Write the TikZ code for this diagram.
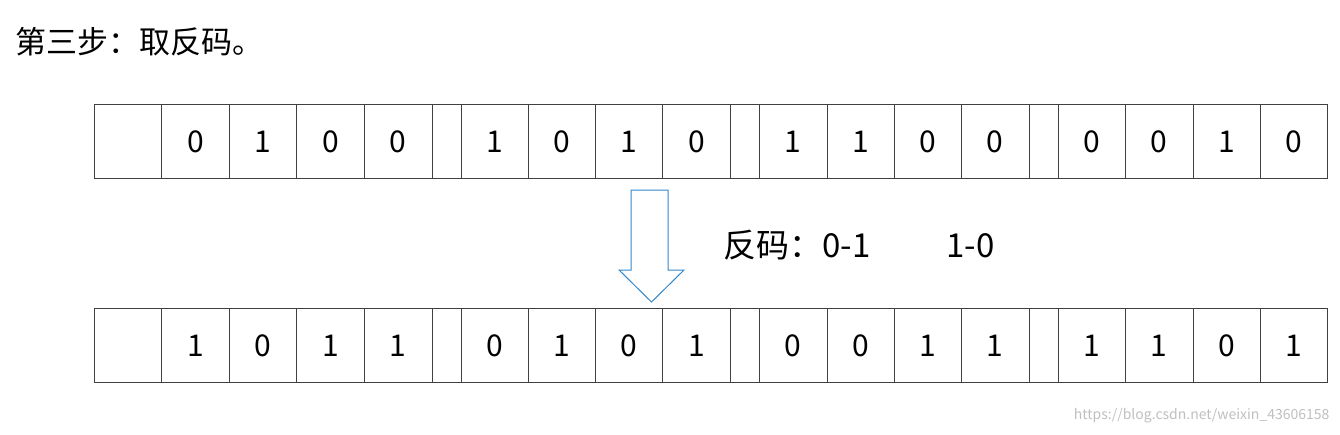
\documentclass[tikz,border=0pt]{standalone}
\usepackage{fontspec}
\newfontfamily\cjk{Noto Sans CJK SC}
\begin{document}
\begin{tikzpicture}[x=1pt,y=-1pt,
  cell/.style={draw=black!75,line width=0.9pt,minimum height=74pt,inner sep=0pt,anchor=north west,font=\cjk\fontsize{30}{30}\selectfont},
  arr/.style={draw=blue!45!cyan!60!gray,line width=1pt,fill=white}]
\useasboundingbox (0,0) rectangle (1340,434);
\node[anchor=west,font=\cjk\fontsize{31}{31}\selectfont] (title) at (12,42) {第三步：取反码。};
\def\xs{93.5,161,229,296,364,431.5,460.5,527.5,595,662,730,759,826.5,894,961,1028.5,1058,1125,1192.6,1260,1327}
\def\rowA{{"","0","1","0","0","","1","0","1","0","","1","1","0","0","","0","0","1","0"}}
\def\rowB{{"","1","0","1","1","","0","1","0","1","","0","0","1","1","","1","1","0","1"}}
\foreach \r/\y/\lst in {a/104/\rowA,b/308/\rowB}{
  \foreach \i in {0,...,19}{
    \pgfmathsetmacro{\xl}{{\xs}[\i]}
    \pgfmathsetmacro{\xr}{{\xs}[\i+1]}
    \pgfmathsetmacro{\t}{\lst[\i]}
    \node[cell,minimum width={\xr-\xl}] (\r\i) at (\xl,\y) {\t};
  }
}
\draw[arr] (631,190) -- (668,190) -- (668,270) -- (684,270) -- (651.5,302) -- (619,270) -- (631,270) -- cycle;
\node[anchor=west,font=\cjk\fontsize{33}{33}\selectfont] (lbl) at (720,245) {反码：0-1\hspace{76pt}1-0};
\node[anchor=east,font=\cjk\fontsize{14}{14}\selectfont,text=black!25] (wm) at (1333,416) {https://blog.csdn.net/weixin\_43606158};
\end{tikzpicture}
\end{document}
